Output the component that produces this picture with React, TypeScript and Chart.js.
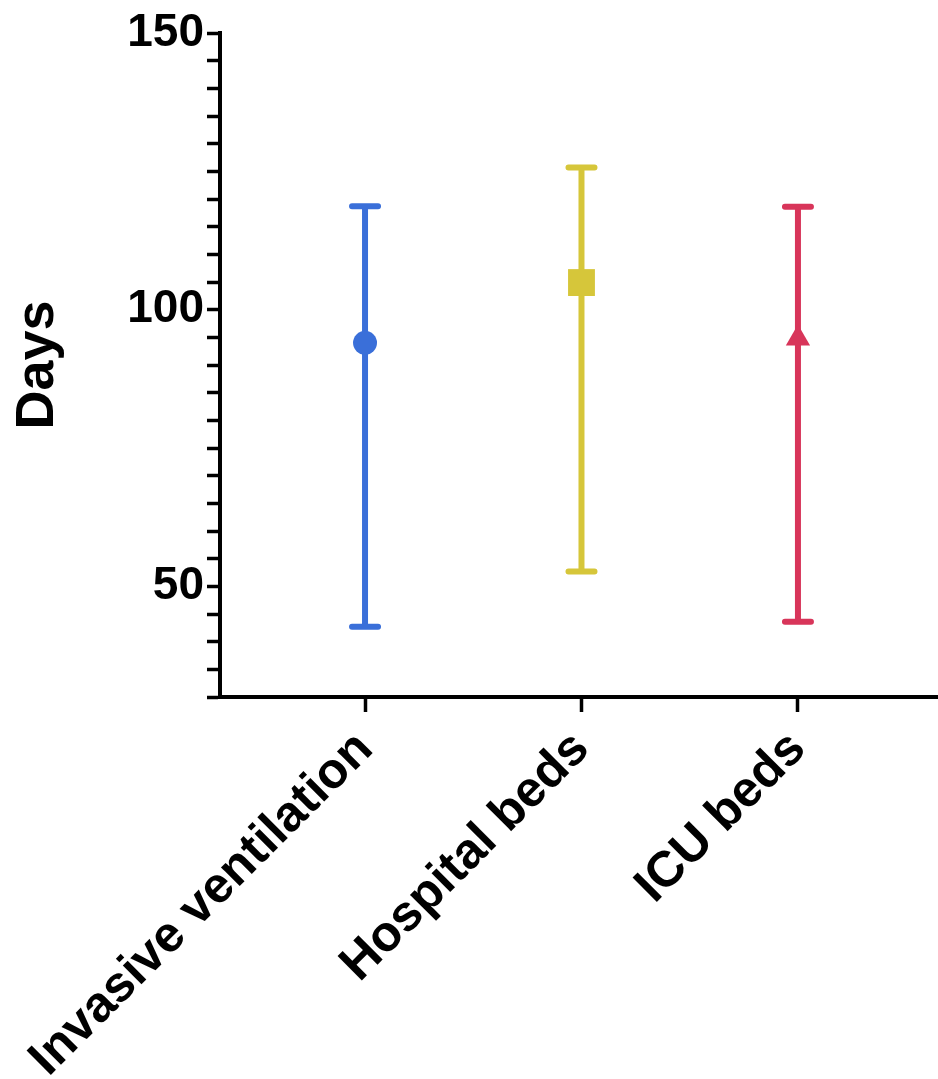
import React, { useEffect, useRef } from 'react';
import { Chart, registerables } from 'chart.js';

Chart.register(...registerables);

// ---- data ----
const categories = ['Invasive ventilation', 'Hospital beds', 'ICU beds'];
const meanValues = [94.0, 104.9, 94.8];
const upperValues = [118.7, 125.7, 118.6];
const lowerValues = [42.7, 52.7, 43.6];
const yMajorTicks = [50, 100, 150];
const yAxisTitle = 'Days';

// ---- styles ----
const markerStyles = ['circle', 'rect', 'triangle'];
const markerRadii = [12, 19, 14];
const colors = ['#3a6fd9', '#d6c63a', '#d8355a'];
const FONT = "'Liberation Sans', Arial, Helvetica, sans-serif";

const errorBarPlugin = {
  id: 'errorBars',
  beforeDatasetsDraw(chart: any) {
    const { ctx } = chart;
    const x = chart.scales.x;
    const y = chart.scales.y;
    ctx.save();
    ctx.lineWidth = 6;
    ctx.lineCap = 'round';
    categories.forEach((_, i) => {
      const px = x.getPixelForValue(i);
      const top = y.getPixelForValue(upperValues[i]);
      const bot = y.getPixelForValue(lowerValues[i]);
      ctx.strokeStyle = colors[i];
      ctx.beginPath();
      ctx.moveTo(px, top);
      ctx.lineTo(px, bot);
      ctx.moveTo(px - 13, top);
      ctx.lineTo(px + 13, top);
      ctx.moveTo(px - 13, bot);
      ctx.lineTo(px + 13, bot);
      ctx.stroke();
    });
    ctx.restore();
  },
};

export default function App() {
  const canvasRef = useRef<HTMLCanvasElement | null>(null);

  useEffect(() => {
    if (!canvasRef.current) return;
    const datasets = categories.map((c, i) => ({
      label: c,
      data: [{ x: i, y: meanValues[i] }],
      pointStyle: markerStyles[i],
      pointRadius: markerRadii[i],
      pointBackgroundColor: colors[i],
      pointBorderColor: colors[i],
      pointBorderWidth: 0,
      showLine: false,
      clip: false,
    }));

    const chart = new Chart(canvasRef.current, {
      type: 'scatter',
      data: { datasets },
      plugins: [errorBarPlugin],
      options: {
        responsive: false,
        animation: false,
        layout: { autoPadding: false, padding: { top: 33, right: 0, left: 0, bottom: 0 } },
        plugins: { legend: { display: false }, tooltip: { enabled: false } },
        scales: {
          x: {
            type: 'linear',
            min: -0.67,
            max: 2.647,
            afterBuildTicks: (scale: any) => {
              scale.ticks = categories.map((_, i) => ({ value: i }));
            },
            afterFit: (scale: any) => {
              scale.height = 382;
              scale.paddingLeft = 0;
              scale.paddingRight = 0;
            },
            ticks: {
              autoSkip: false,
              minRotation: 45,
              maxRotation: 45,
              padding: 8,
              color: '#000',
              font: { family: FONT, size: 50, weight: 'bold' },
              callback: (v: any) => categories[v] ?? '',
            },
            grid: {
              drawOnChartArea: false,
              drawTicks: true,
              tickLength: 15,
              tickWidth: 3.5,
              tickColor: '#000',
            },
            border: { display: true, width: 4, color: '#000' },
          },
          y: {
            type: 'linear',
            min: 30,
            max: 150,
            afterFit: (scale: any) => {
              scale.width = 220;
            },
            ticks: {
              stepSize: 5,
              autoSkip: false,
              padding: 3,
              color: '#000',
              font: { family: FONT, size: 46, weight: 'bold' },
              callback: (v: any) => (yMajorTicks.includes(Number(v)) ? String(v) : ''),
            },
            grid: {
              drawOnChartArea: false,
              drawTicks: true,
              tickLength: 13,
              tickWidth: 3.5,
              tickColor: '#000',
            },
            border: { display: true, width: 4, color: '#000' },
            title: {
              display: true,
              text: yAxisTitle,
              color: '#000',
              font: { family: FONT, size: 54, weight: 'bold' },
              padding: { top: 6, bottom: 0 },
            },
          },
        },
      },
    } as any);

    return () => chart.destroy();
  }, []);

  return (
    <div style={{ position: 'absolute', left: 0, top: 0, width: 938, height: 1079, background: '#fff' }}>
      <canvas ref={canvasRef} width={938} height={1079} style={{ display: 'block' }} />
    </div>
  );
}
